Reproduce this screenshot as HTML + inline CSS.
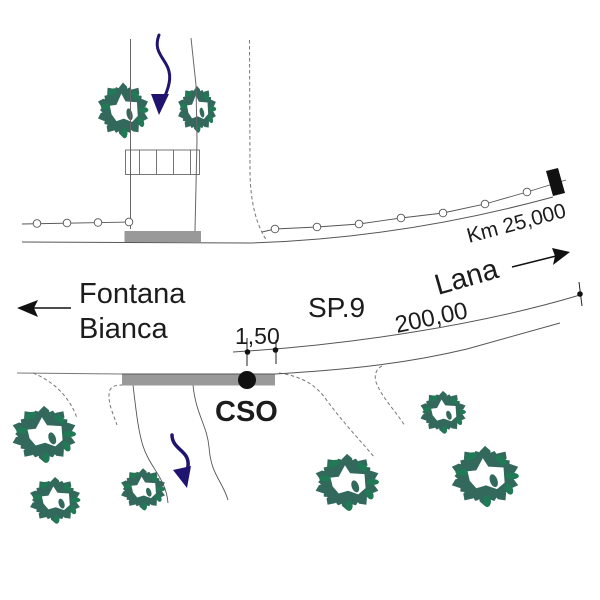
<!DOCTYPE html>
<html>
<head>
<meta charset="utf-8">
<style>
html,body{margin:0;padding:0;background:#fff;width:600px;height:600px;overflow:hidden}
svg{display:block}
text{font-family:"Liberation Sans",sans-serif;fill:#1c1c1c}
</style>
</head>
<body>
<svg width="600" height="600" viewBox="0 0 600 600" xmlns="http://www.w3.org/2000/svg">
<defs>
<polygon id="lf" points="0,-32 5,-27 5,-15 -5,-15 -5,-26"/>
<polygon id="ls" points="0,-28 5,-24 5,-15 -5,-15 -5,-23"/>
<g id="tree">
<circle r="21" fill="#33695c"/>
<g fill="#33695c">
<use href="#lf"/>
<use href="#ls" transform="rotate(18)"/>
<use href="#lf" transform="rotate(36)"/>
<use href="#ls" transform="rotate(54)"/>
<use href="#lf" transform="rotate(72)"/>
<use href="#ls" transform="rotate(90)"/>
<use href="#lf" transform="rotate(108)"/>
<use href="#ls" transform="rotate(126)"/>
<use href="#lf" transform="rotate(144)"/>
<use href="#ls" transform="rotate(162)"/>
<use href="#lf" transform="rotate(180)"/>
<use href="#ls" transform="rotate(198)"/>
<use href="#lf" transform="rotate(216)"/>
<use href="#ls" transform="rotate(234)"/>
<use href="#lf" transform="rotate(252)"/>
<use href="#ls" transform="rotate(270)"/>
<use href="#lf" transform="rotate(288)"/>
<use href="#ls" transform="rotate(306)"/>
<use href="#lf" transform="rotate(324)"/>
<use href="#ls" transform="rotate(342)"/>
</g>
<g fill="#1f7a55">
<ellipse cx="-21" cy="-4" rx="6" ry="3.500"/>
<ellipse cx="-13" cy="-21" rx="6" ry="3.500" transform="rotate(-30 -13 -21)"/>
<ellipse cx="15" cy="-17" rx="6" ry="3.500" transform="rotate(45 15 -17)"/>
<ellipse cx="25" cy="0" rx="6" ry="3.500"/>
<ellipse cx="22" cy="14" rx="3.500" ry="6" transform="rotate(-20 22 14)"/>
<ellipse cx="2" cy="27" rx="3.500" ry="6"/>
</g>
<polygon fill="#fff" points="-2,-19 3,-10 17,-9 18,7 11,14 1,10 -8,13 -14,5 -16,-5 -8,-6"/>
<ellipse cx="8" cy="5" rx="3.500" ry="7" fill="#33695c" transform="rotate(-15 8 5)"/>
</g>
</defs>

<rect width="600" height="600" fill="#fff"/>

<!-- trees -->
<use href="#tree" transform="translate(123,110) scale(.82,.86)"/>
<use href="#tree" transform="translate(197,109) scale(.62,.72)"/>
<use href="#tree" transform="translate(44,434) scale(1.03,.88)"/>
<use href="#tree" transform="translate(55,500) scale(.82,.72)"/>
<use href="#tree" transform="translate(143,489) scale(.72,.65)"/>
<use href="#tree" transform="translate(443,412) scale(.74,.66)"/>
<use href="#tree" transform="translate(347,482) scale(1.03,.88)"/>
<use href="#tree" transform="translate(485,476) scale(1.09,.94)"/>

<!-- upstream channel -->
<g fill="none" stroke="#666" stroke-width="1">
<path d="M130.500 39V229"/>
<path d="M191 38L196 85L197 140L195 231"/>
</g>
<g fill="none" stroke="#555" stroke-width=".8">
<rect x="125.500" y="150" width="74" height="24.500"/>
<path d="M139.500 150V174M156.500 150V174M173.500 150V174M190.500 150V174"/>
</g>

<!-- top road -->
<rect x="124.500" y="231" width="76.500" height="11" fill="#999"/>
<path d="M22 242L250 243C350 240 450 225 553 197" fill="none" stroke="#555" stroke-width="1"/>
<path d="M22 224L129 222" fill="none" stroke="#555" stroke-width=".9"/>
<path d="M262 232L275 229L317 227L359 224L401 218L443 213L485 204L527 192L566 180" fill="none" stroke="#555" stroke-width=".9"/>
<g fill="#fff" stroke="#555" stroke-width=".9">
<circle cx="37" cy="223.500" r="3.800"/>
<circle cx="67" cy="223" r="3.800"/>
<circle cx="98" cy="222.500" r="3.800"/>
<circle cx="129" cy="222" r="3.800"/>
<circle cx="275" cy="229" r="3.800"/>
<circle cx="317" cy="227" r="3.800"/>
<circle cx="359" cy="224" r="3.800"/>
<circle cx="401" cy="218" r="3.800"/>
<circle cx="443" cy="213" r="3.800"/>
<circle cx="485" cy="204" r="3.800"/>
<circle cx="527" cy="192" r="3.800"/>
</g>
<polygon points="546,171 558,168 565,193 553,196" fill="#111"/>

<!-- dashed lines -->
<g fill="none" stroke="#777" stroke-width="1" stroke-dasharray="3.500 2.500">
<path d="M249.500 40L250 170C250 200 256 225 267 241"/>
<path d="M33 373C55 382 70 398 77 418"/>
<path d="M123 385C112 385 109 388 109 396C109 406 114 416 117 425"/>
<path d="M279 373C300 376 315 384 325 398C345 425 360 440 375 458"/>
<path d="M382 366C376 369 374 375 376 382C382 398 395 410 405 426"/>
</g>

<!-- streams -->
<g fill="none" stroke="#555" stroke-width=".9">
<path d="M133 385C136 410 138 430 143 446C150 468 166 478 168 503"/>
<path d="M193 385C196 415 207 425 209 447C211 475 222 480 228 500"/>
</g>

<!-- blue arrows -->
<g fill="none" stroke="#1f1470" stroke-linecap="round">
<path d="M159 35C154 48 160 54 166 64C172 74 170 84 165 96" stroke-width="3"/>
<path d="M172 435C172 447 184 450 187 458C189 463 188 466 187 472" stroke-width="3.500"/>
</g>
<polygon points="151,94 169,94 159,115" fill="#1f1470"/>
<polygon points="173,470 191,466 187,488" fill="#1f1470"/>

<!-- lower road -->
<rect x="122" y="374" width="153" height="11.500" fill="#999"/>
<path d="M17 373L122 374" fill="none" stroke="#777" stroke-width="1"/>
<path d="M122 374H275C340 370 400 365 467 349L560 323" fill="none" stroke="#555" stroke-width="1"/>
<path d="M233 352C350 345 480 325 580 295" fill="none" stroke="#555" stroke-width="1"/>
<g stroke="#222" stroke-width="1" fill="none">
<path d="M247 338V366M276 340V364M579 282L582 306"/>
</g>
<g fill="#111">
<circle cx="247.500" cy="352" r="2.800"/>
<circle cx="275.500" cy="350" r="2.800"/>
<circle cx="580" cy="294" r="2.800"/>
<circle cx="247" cy="380" r="9"/>
</g>

<!-- direction arrows -->
<path d="M34 308H71" stroke="#111" stroke-width="1.500" fill="none"/>
<polygon points="17,308 38,300 34,308 38,317" fill="#111"/>
<path d="M512 267L556 256" stroke="#111" stroke-width="1.500" fill="none"/>
<polygon points="570,252 552,248 555,256 553,265" fill="#111"/>

<!-- labels -->
<text x="79" y="303" font-size="29">Fontana</text>
<text x="79" y="338" font-size="29">Bianca</text>
<text x="308" y="317" font-size="28">SP.9</text>
<text x="0" y="0" font-size="29" transform="translate(438,295) rotate(-16)">Lana</text>
<text x="0" y="0" font-size="24" transform="translate(397,333) rotate(-12)">200,00</text>
<text x="0" y="0" font-size="21" transform="translate(469,243) rotate(-15)">Km 25,000</text>
<text x="235" y="344" font-size="23">1,50</text>
<text x="215" y="421" font-size="29" font-weight="bold">CSO</text>
</svg>
</body>
</html>
